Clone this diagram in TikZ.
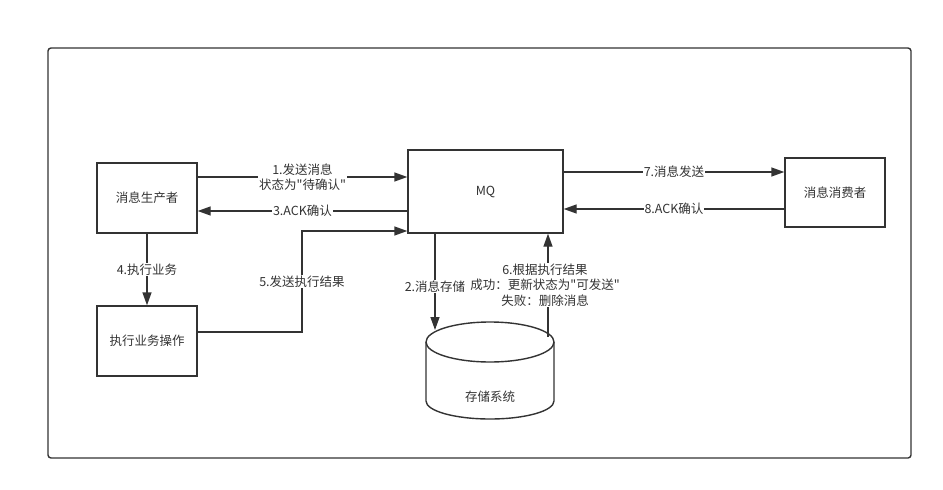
\documentclass[tikz,border=0pt]{standalone}
\usepackage{fontspec}
\setmainfont{Noto Sans CJK SC}[Ligatures=TeXOff]
\usetikzlibrary{arrows.meta}

\definecolor{ink}{HTML}{333333}

\tikzset{
    box/.style={draw=ink, line width=1.4pt, minimum width=100pt, minimum height=70pt,
                inner sep=0pt, text=ink},
    flow/.style={draw=ink, line width=1.4pt, -{Triangle[length=13pt,width=9pt]}},
    lbl/.style={fill=white, inner sep=1pt, text=ink, align=center}
}

\begin{document}
\begin{tikzpicture}[x=1pt, y=-1pt, font=\fontsize{12.5}{15.5}\selectfont]

    \useasboundingbox (0,0) rectangle (943,490);

    % outer frame
    \draw[ink, line width=1.4pt, rounded corners=3pt] (48,48) rectangle (911,458);

    % boxes
    \node[box] (producer) at (147,198) {消息生产者};
    \node[box] (task)     at (147,341) {执行业务操作};
    \node[box, minimum width=155pt, minimum height=83pt] (MQ) at (485.5,191.5) {MQ};
    \node[box, minimum height=69pt] (consumer) at (835,192.5) {消息消费者};

    % storage
    \draw[ink, line width=1.4pt]
        (426,342) -- (426,401) arc[start angle=180, end angle=360, x radius=64pt, y radius=18pt]
        -- (554,342);
    \draw[ink, line width=1.4pt] (490,342) ellipse [x radius=64pt, y radius=20pt];
    \node[text=ink] (store) at (490,397) {存储系统};
    \coordinate (store in)  at (435,330);
    \coordinate (store out) at (548,337);

    % levels of the connectors
    \coordinate (y1) at (0,177);
    \coordinate (y3) at (0,211);
    \coordinate (y5) at (0,231);
    \coordinate (y7) at (0,172);
    \coordinate (y8) at (0,209);
    \coordinate (bend5) at (302,332);

    \draw[flow] (producer.east |- y1) -- node[lbl] (send) {1.发送消息\\状态为"待确认"} (MQ.west |- y1);
    \draw[flow] (MQ.west |- y3) -- node[lbl] (ack) {3.ACK确认} (producer.east |- y3);
    \draw[flow] (producer) -- node[lbl] (run) {4.执行业务} (task);
    \draw[flow] (task.east |- bend5) -- (bend5)
        -- node[lbl] (result) {5.发送执行结果} (bend5 |- y5) -- (MQ.west |- y5);
    \draw[flow] (store in |- MQ.south) -- node[lbl, pos=0.55] (save) {2.消息存储} (store in);
    \draw[flow] (store out) -- (store out |- MQ.south);
    \node[lbl] (update) at (545,285) {6.根据执行结果\\成功：更新状态为"可发送"\\失败：删除消息};
    \draw[flow] (MQ.east |- y7) -- node[lbl] (deliver) {7.消息发送} (consumer.west |- y7);
    \draw[flow] (consumer.west |- y8) -- node[lbl] (ack2) {8.ACK确认} (MQ.east |- y8);

\end{tikzpicture}
\end{document}
